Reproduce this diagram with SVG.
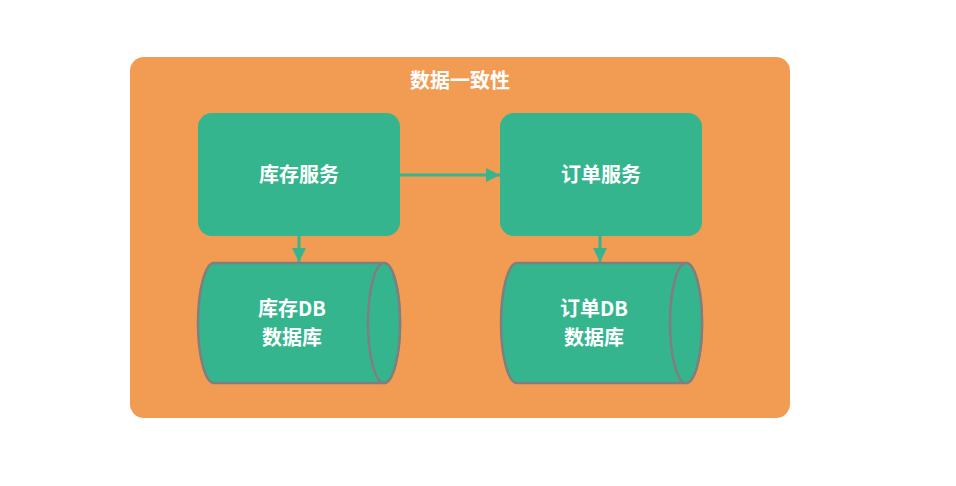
<svg xmlns="http://www.w3.org/2000/svg" width="956" height="486" viewBox="0 0 956 486">
<style>
.lbl{font-family:"Noto Sans CJK SC","Noto Sans",sans-serif;font-weight:bold;font-size:20px;fill:#fff;text-anchor:middle}
.svc{fill:#35B58E}
.db{fill:#35B58E;stroke:#7f7f7f;stroke-width:2.5}
.edge{stroke:#35B58E;stroke-width:3;fill:none}
</style>
<defs>
<marker id="ahb" markerWidth="14" markerHeight="14" refX="14" refY="7" orient="auto" markerUnits="userSpaceOnUse" viewBox="0 0 14 14">
<path d="M0,0 L14,7 L0,14 z" fill="#35B58E"/>
</marker>
</defs>
<rect width="956" height="486" fill="#fff"/>
<g id="container">
<rect x="130" y="57" width="660" height="361" rx="14" fill="#F29B53"/>
<text class="lbl" x="460" y="88">数据一致性</text>
</g>
<g id="inventory-service">
<rect class="svc" x="198" y="113" width="202" height="123" rx="14"/>
<text class="lbl" x="299" y="182">库存服务</text>
</g>
<g id="order-service">
<rect class="svc" x="500" y="113" width="202" height="123" rx="14"/>
<text class="lbl" x="601" y="182">订单服务</text>
</g>
<g id="inventory-db">
<path class="db" d="M214,263 L384,263 A16,60 0 0 1 384,383 L214,383 A16,60 0 0 1 214,263 Z"/>
<ellipse class="db" cx="384" cy="323" rx="16" ry="60"/>
<text class="lbl" x="292" y="316">库存DB</text>
<text class="lbl" x="292" y="345">数据库</text>
</g>
<g id="order-db">
<path class="db" d="M517,263 L686,263 A16,60 0 0 1 686,383 L517,383 A16,60 0 0 1 517,263 Z"/>
<ellipse class="db" cx="686" cy="323" rx="16" ry="60"/>
<text class="lbl" x="594" y="316">订单DB</text>
<text class="lbl" x="594" y="345">数据库</text>
</g>
<g id="connectors">
<line class="edge" x1="400" y1="175" x2="500" y2="175" marker-end="url(#ahb)"/>
<line class="edge" x1="299" y1="236" x2="299" y2="262" marker-end="url(#ahb)"/>
<line class="edge" x1="600" y1="236" x2="600" y2="262" marker-end="url(#ahb)"/>
</g>
</svg>
